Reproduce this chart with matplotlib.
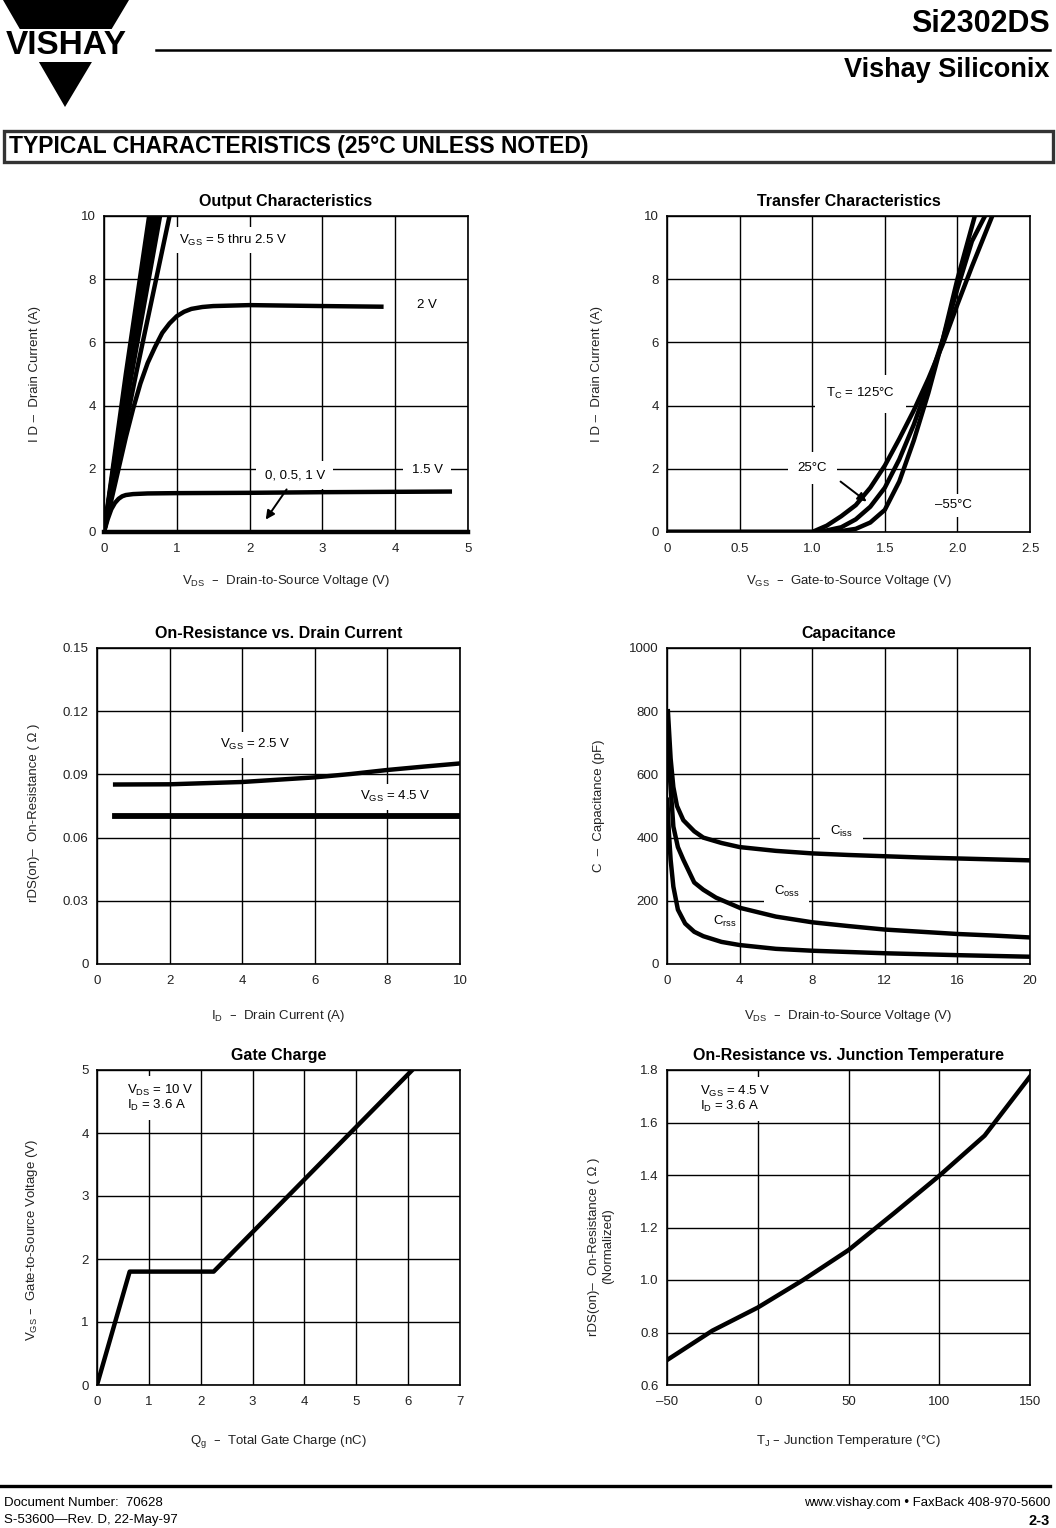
import matplotlib
matplotlib.use("Agg")
import matplotlib.pyplot as plt
from matplotlib.patches import Polygon, Rectangle

plt.rcParams['font.family'] = ['Liberation Sans', 'DejaVu Sans']
plt.rcParams['mathtext.default'] = 'regular'
NARROW = ['Liberation Sans Narrow', 'Liberation Sans', 'DejaVu Sans']

# ---- data ----
# Output characteristics (VDS, ID)
out_high_x = [[0, 0.30, 0.62], [0, 0.32, 0.65], [0, 0.33, 0.68],
              [0, 0.35, 0.72], [0, 0.38, 0.77], [0, 0.44, 0.90]]
out_high_y = [0, 5, 10]
out_2v_x = [0, 0.1, 0.2, 0.3, 0.4, 0.5, 0.6, 0.7, 0.8, 0.9, 1.0, 1.1, 1.2, 1.35, 1.5, 2.0, 3.0, 3.81]
out_2v_y = [0, 1.0, 2.0, 3.0, 3.9, 4.7, 5.35, 5.85, 6.3, 6.6, 6.83, 6.97, 7.06, 7.12, 7.15, 7.18, 7.15, 7.13]
out_15v_x = [0, 0.05, 0.1, 0.15, 0.2, 0.25, 0.3, 0.4, 0.6, 1.0, 2.0, 3.0, 4.75]
out_15v_y = [0, 0.4, 0.72, 0.92, 1.05, 1.13, 1.17, 1.2, 1.22, 1.23, 1.24, 1.26, 1.28]
out_off_x = [0, 5]
out_off_y = [0, 0]

# Transfer characteristics (VGS, ID)
tr_m55_x = [0, 1.05, 1.2, 1.3, 1.4, 1.5, 1.6, 1.7, 1.8, 1.9, 2.0, 2.12]
tr_m55_y = [0, 0, 0.03, 0.1, 0.3, 0.7, 1.6, 2.9, 4.4, 6.1, 8.0, 10]
tr_25_x = [0, 1.0, 1.1, 1.2, 1.3, 1.4, 1.5, 1.6, 1.7, 1.8, 1.9, 2.0, 2.1, 2.19]
tr_25_y = [0, 0, 0.05, 0.15, 0.4, 0.8, 1.4, 2.3, 3.4, 4.7, 6.1, 7.7, 9.2, 10]
tr_125_x = [0, 1.0, 1.1, 1.2, 1.3, 1.4, 1.5, 1.6, 1.7, 1.8, 1.9, 2.0, 2.1, 2.24]
tr_125_y = [0, 0, 0.2, 0.5, 0.85, 1.4, 2.1, 2.95, 3.85, 4.85, 5.95, 7.2, 8.4, 10]

# On-resistance vs drain current (ID, rDS)
ron_id = [0.5, 2, 4, 6, 7, 8, 9, 10]
ron_25 = [0.0852, 0.0853, 0.0864, 0.0886, 0.0902, 0.0921, 0.0937, 0.0952]
ron_45_id = [0.5, 10]
ron_45 = [0.0704, 0.0704]

# Capacitance (VDS, pF)
ciss_v = [0.05, 0.2, 0.35, 0.55, 0.9, 1.5, 2, 3, 4, 6, 8, 10, 12, 14, 16, 18, 20]
ciss = [800, 650, 560, 500, 455, 420, 400, 383, 370, 358, 350, 345, 341, 337, 334, 331, 328]
coss_v = [0.02, 0.15, 0.35, 0.6, 0.9, 1.5, 2, 2.7, 4, 6, 8, 10, 12, 14, 16, 18, 20]
coss = [745, 600, 435, 370, 330, 258, 235, 210, 178, 150, 132, 120, 109, 102, 95, 90, 84]
crss_v = [0.02, 0.1, 0.2, 0.35, 0.6, 1, 1.5, 2, 3, 4, 6, 8, 10, 12, 16, 20]
crss = [520, 420, 330, 245, 172, 128, 102, 88, 70, 60, 48, 42, 38, 34, 28, 23]

# Gate charge (nC, VGS)
qg = [0, 0.63, 2.25, 6.08]
vgs_q = [0, 1.8, 1.8, 5.0]

# On-resistance vs junction temperature (TJ, normalized)
tj = [-50, -25, 0, 25, 50, 75, 100, 125, 150]
rn = [0.695, 0.807, 0.895, 1.0, 1.114, 1.254, 1.397, 1.55, 1.775]

W, H = 1056, 1528
fig = plt.figure(figsize=(W / 100, H / 100), dpi=100)


def add_ax(l, t, r, b):
    return fig.add_axes([l / W, 1 - b / H, (r - l) / W, (b - t) / H])


def setup(ax, title, xlim, ylim, xt, xtl, yt, ytl, xlab, ylab, xl_y, yl_x, yl_y=0.5):
    ax.set_xlim(*xlim)
    ax.set_ylim(*ylim)
    ax.set_xticks(xt)
    ax.set_xticklabels(xtl)
    ax.set_yticks(yt)
    ax.set_yticklabels(ytl)
    ax.tick_params(length=0, labelsize=9.5, colors='#222222')
    ax.tick_params(axis='x', pad=8)
    ax.tick_params(axis='y', pad=6)
    ax.grid(True, color='black', lw=1.0)
    ax.set_axisbelow(True)
    for s in ax.spines.values():
        s.set_linewidth(1.2)
    ax.set_title(title, fontsize=11.5, fontweight='bold', pad=7)
    ax.set_xlabel(xlab, fontsize=9.5, color='#222222')
    ax.set_ylabel(ylab, fontsize=9.5, color='#222222')
    ax.xaxis.set_label_coords(0.5, xl_y)
    ax.yaxis.set_label_coords(yl_x, yl_y)


box = dict(fc='white', ec='none', pad=4)
LW = 3.2

# ---- Output Characteristics ----
ax = add_ax(104, 216, 468, 532)
setup(ax, 'Output Characteristics', (0, 5), (0, 10), range(6), [str(i) for i in range(6)],
      range(0, 11, 2), [str(i) for i in range(0, 11, 2)],
      'V$_{DS}$  –  Drain-to-Source Voltage (V)', 'I D –  Drain Current (A)', -0.13, -0.172)
for xs in out_high_x:
    ax.plot(xs, out_high_y, color='black', lw=LW)
ax.plot(out_2v_x, out_2v_y, color='black', lw=LW)
ax.plot(out_15v_x, out_15v_y, color='black', lw=LW)
ax.plot(out_off_x, out_off_y, color='black', lw=LW, clip_on=False)
ax.text(1.03, 9.24, 'V$_{GS}$ = 5 thru 2.5 V', fontsize=9.5, ha='left', va='center', bbox=box)
ax.text(4.44, 7.18, '2 V', fontsize=9.5, ha='center', va='center', bbox=box)
ax.text(4.44, 1.96, '1.5 V', fontsize=9.5, ha='center', va='center', bbox=dict(fc='white', ec='none', pad=6))
ax.text(2.62, 1.8, '0, 0.5, 1 V', fontsize=9.5, ha='center', va='center', bbox=dict(fc='white', ec='none', pad=6))
ax.annotate('', xy=(2.2, 0.32), xytext=(2.53, 1.42),
            arrowprops=dict(arrowstyle='-|>', color='black', lw=1.4, mutation_scale=13))

# ---- Transfer Characteristics ----
ax = add_ax(667, 216, 1030, 532)
setup(ax, 'Transfer Characteristics', (0, 2.5), (0, 10), [0, 0.5, 1.0, 1.5, 2.0, 2.5],
      ['0', '0.5', '1.0', '1.5', '2.0', '2.5'], range(0, 11, 2), [str(i) for i in range(0, 11, 2)],
      'V$_{GS}$  –  Gate-to-Source Voltage (V)', 'I D –  Drain Current (A)', -0.13, -0.175)
ax.plot(tr_m55_x, tr_m55_y, color='black', lw=LW)
ax.plot(tr_25_x, tr_25_y, color='black', lw=LW)
ax.plot(tr_125_x, tr_125_y, color='black', lw=LW)
ax.text(1.33, 4.37, 'T$_C$ = 125°C', fontsize=9.5, ha='center', va='center',
        bbox=dict(fc='white', ec='none', pad=8))
ax.text(1.0, 2.02, '25°C', fontsize=9.5, ha='center', va='center', bbox=dict(fc='white', ec='none', pad=7))
ax.text(1.97, 0.85, '–55°C', fontsize=9.5, ha='center', va='center', bbox=box)
ax.annotate('', xy=(1.39, 0.91), xytext=(1.18, 1.65),
            arrowprops=dict(arrowstyle='-|>', color='black', lw=1.4, mutation_scale=13))

# ---- On-Resistance vs. Drain Current ----
ax = add_ax(97, 648, 460, 964)
setup(ax, 'On-Resistance vs. Drain Current', (0, 10), (0, 0.15), range(0, 11, 2),
      [str(i) for i in range(0, 11, 2)], [0, 0.03, 0.06, 0.09, 0.12, 0.15],
      ['0', '0.03', '0.06', '0.09', '0.12', '0.15'],
      'I$_D$  –  Drain Current (A)', 'rDS(on)–  On-Resistance ( Ω )', -0.139, -0.156, 0.48)
ax.plot(ron_id, ron_25, color='black', lw=LW)
ax.plot(ron_45_id, ron_45, color='black', lw=LW + 1.0)
ax.text(4.35, 0.104, 'V$_{GS}$ = 2.5 V', fontsize=9.5, ha='center', va='center', bbox=box)
ax.text(8.21, 0.0794, 'V$_{GS}$ = 4.5 V', fontsize=9.5, ha='center', va='center', bbox=box)

# ---- Capacitance ----
ax = add_ax(667, 648, 1030, 964)
setup(ax, 'Capacitance', (0, 20), (0, 1000), range(0, 21, 4), [str(i) for i in range(0, 21, 4)],
      range(0, 1001, 200), [str(i) for i in range(0, 1001, 200)],
      'V$_{DS}$  –  Drain-to-Source Voltage (V)', 'C  –  Capacitance (pF)', -0.139, -0.172)
ax.plot(ciss_v, ciss, color='black', lw=LW)
ax.plot(coss_v, coss, color='black', lw=LW)
ax.plot(crss_v, crss, color='black', lw=LW)
ax.text(9.62, 419, 'C$_{iss}$', fontsize=9.5, ha='center', va='center', bbox=dict(fc='white', ec='none', pad=7))
ax.text(6.6, 229, 'C$_{oss}$', fontsize=9.5, ha='center', va='center', bbox=dict(fc='white', ec='none', pad=7))
ax.text(3.2, 134, 'C$_{rss}$', fontsize=9.5, ha='center', va='center', bbox=dict(fc='white', ec='none', pad=2.5))

# ---- Gate Charge ----
ax = add_ax(97, 1070, 460, 1385)
setup(ax, 'Gate Charge', (0, 7), (0, 5), range(8), [str(i) for i in range(8)],
      range(6), [str(i) for i in range(6)],
      'Q$_g$  –  Total Gate Charge (nC)', 'V$_{GS}$ –  Gate-to-Source Voltage (V)', -0.152, -0.158, 0.46)
ax.plot(qg, vgs_q, color='black', lw=LW)
ax.text(0.57, 4.55, 'V$_{DS}$ = 10 V\nI$_D$ = 3.6 A', fontsize=9.5, ha='left', va='center',
        linespacing=1.0, bbox=dict(fc='white', ec='none', pad=5))

# ---- On-Resistance vs. Junction Temperature ----
ax = add_ax(667, 1070, 1030, 1385)
setup(ax, 'On-Resistance vs. Junction Temperature', (-50, 150), (0.6, 1.8), range(-50, 151, 50),
      ['–50', '0', '50', '100', '150'], [0.6, 0.8, 1.0, 1.2, 1.4, 1.6, 1.8],
      ['0.6', '0.8', '1.0', '1.2', '1.4', '1.6', '1.8'],
      'T$_J$ – Junction Temperature (°C)', 'rDS(on)–  On-Resistance ( Ω )\n(Normalized)',
      -0.152, -0.147, 0.44)
ax.plot(tj, rn, color='black', lw=LW)
ax.text(-31.8, 1.69, 'V$_{GS}$ = 4.5 V\nI$_D$ = 3.6 A', fontsize=9.5, ha='left', va='center',
        linespacing=1.0, bbox=dict(fc='white', ec='none', pad=5))

# ---- page decorations: logo, header, title bar, footer ----
pg = fig.add_axes([0, 0, 1, 1], zorder=-1)
pg.set_xlim(0, W)
pg.set_ylim(H, 0)
pg.axis('off')
pg.add_patch(Polygon([(3, 0), (129, 0), (65, 107)], closed=True, fc='black', ec='none'))
pg.add_patch(Rectangle((0, 29), 135, 33, fc='white', ec='none'))
pg.text(66, 46, 'VISHAY', fontsize=24, fontweight='bold', family=NARROW, ha='center', va='center')
pg.plot([156, 1050], [50, 50], color='black', lw=1.8)
pg.text(1050, 24, 'Si2302DS', fontsize=22, fontweight='bold', family=NARROW, ha='right', va='center')
pg.text(1050, 70, 'Vishay Siliconix', fontsize=19.5, fontweight='bold', family=NARROW, ha='right', va='center')
pg.add_patch(Rectangle((4, 131), 1049, 31, fc='white', ec='#333333', lw=2.4))
pg.text(9, 147, 'TYPICAL CHARACTERISTICS (25°C UNLESS NOTED)', fontsize=16.5, fontweight='heavy',
        family=NARROW, ha='left', va='center')
pg.plot([0, 1050], [1486, 1486], color='black', lw=2.4)
pg.text(4, 1503, 'Document Number:  70628', fontsize=9.5, family=NARROW, ha='left', va='center')
pg.text(4, 1520, 'S-53600—Rev. D, 22-May-97', fontsize=9.5, family=NARROW, ha='left', va='center')
pg.text(1050, 1503, 'www.vishay.com • FaxBack 408-970-5600', fontsize=9.5, family=NARROW,
        ha='right', va='center')
pg.text(1050, 1521, '2-3', fontsize=10.5, fontweight='bold', family=NARROW, ha='right', va='center')

fig.savefig('out.png', dpi=100)
